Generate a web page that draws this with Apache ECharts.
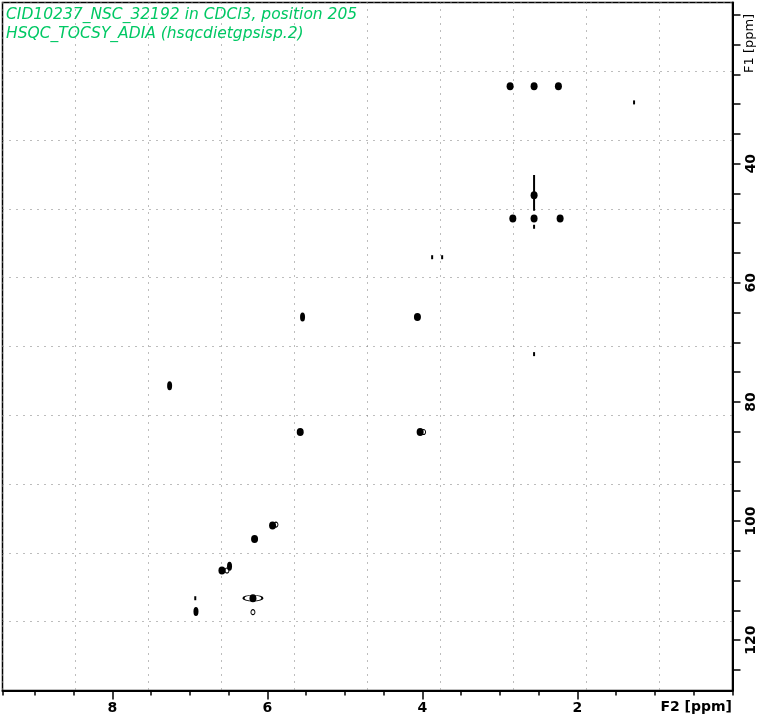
<!DOCTYPE html>
<html><head><meta charset="utf-8">
<script src="https://cdn.jsdelivr.net/npm/echarts@6/dist/echarts.min.js"></script>
<style>html,body{margin:0;padding:0;background:#fff}#c{width:763px;height:720px}</style>
</head><body><div id="c"></div>
<script>
// Axis ranges (ppm)
const f2Range = [0, 9.418];
const f1Range = [12.95, 128.45];
const f2MinorTicks = 0.5;
const f2Labels = [2, 4, 6, 8];
const f1Ticks = [15,20,25,30,35,40,45,50,55,60,65,70,75,80,85,90,95,100,105,110,115,120,125];
const f1Labels = [40, 60, 80, 100, 120];

// Cross peaks (F2 ppm, F1 ppm)
const roundF2 = [2.869, 2.560, 2.246, 2.834, 2.560, 2.224, 4.065, 5.577, 4.030, 5.934, 6.166, 6.587, 6.187, 2.560];
const roundF1 = [26.99, 26.99, 26.99, 49.22, 49.22, 49.22, 65.73, 85.06, 85.06, 100.77, 103.0, 108.3, 112.96, 45.32];
const tallF2 = [5.547, 7.262, 6.489, 6.922];
const tallF1 = [65.73, 77.30, 107.6, 115.2];
const weakF2 = [1.270, 3.875, 3.746, 2.560, 6.931, 2.560];
const weakF1 = [29.72, 55.71, 55.71, 71.98, 112.96, 50.6];
const ringF2 = [6.187, 5.890, 3.985, 6.522];
const ringF1 = [115.3, 100.6, 85.06, 108.3];
const wingF2 = [6.187];
const wingF1 = [112.96];
const streakF2 = [2.560, 2.560];
const streakF1 = [41.9, 47.9];

const zip = (a, b) => a.map((v, i) => [v, b[i]]);
const chart = echarts.init(document.getElementById('c'), null, {renderer: 'canvas'});
const dotted = {color: '#7a7a7a', width: 1, type: [1, 6]};
const txtFont = 'DejaVu Sans';

chart.setOption({
  animation: false,
  backgroundColor: '#fff',
  grid: {left: 2.5, right: 30.5, top: 2.5, bottom: 29.5, show: true, borderColor: '#000', borderWidth: 1.5, backgroundColor: 'transparent'},
  xAxis: [
    {type: 'value', min: f2Range[0], max: f2Range[1], inverse: true, position: 'bottom', interval: f2MinorTicks,
     axisLine: {lineStyle: {color: '#000', width: 2}}, axisTick: {length: 5, lineStyle: {color: '#000', width: 1.5}},
     axisLabel: {show: false}, splitLine: {show: false}},
    {type: 'value', min: f2Range[0], max: f2Range[1], inverse: true, position: 'bottom', interval: 2,
     axisLine: {show: false}, axisTick: {length: 9, lineStyle: {color: '#000', width: 1.5}},
     axisLabel: {show: true, margin: 11, color: '#000', fontFamily: txtFont, fontSize: 14, fontWeight: 'bold',
       showMaxLabel: false, showMinLabel: false,
       formatter: v => f2Labels.includes(v) ? String(v) : ''},
     splitLine: {show: false}},
    {type: 'value', min: 0, max: 10, interval: 1, position: 'top', axisLine: {show: false}, axisTick: {show: false},
     axisLabel: {show: false}, splitLine: {show: true, lineStyle: dotted}}
  ],
  yAxis: [
    {type: 'value', min: f1Range[0], max: f1Range[1], inverse: true, position: 'right',
     axisLine: {lineStyle: {color: '#000', width: 2}},
     axisTick: {length: 8, customValues: f1Ticks, lineStyle: {color: '#000', width: 1.5}},
     axisLabel: {customValues: f1Labels, rotate: 90, margin: 12, color: '#000', fontFamily: txtFont, fontSize: 14, fontWeight: 'bold'},
     splitLine: {show: false}},
    {type: 'value', min: 0, max: 10, interval: 1, position: 'left', axisLine: {show: false}, axisTick: {show: false},
     axisLabel: {show: false}, splitLine: {show: true, lineStyle: dotted}}
  ],
  series: [
    {type: 'line', xAxisIndex: 0, yAxisIndex: 0, data: zip(streakF2, streakF1), symbol: 'none',
     lineStyle: {color: '#000', width: 2}, z: 3},
    {type: 'scatter', xAxisIndex: 0, yAxisIndex: 0, data: zip(roundF2, roundF1), symbol: 'circle', symbolSize: [7, 8],
     itemStyle: {color: '#000', opacity: 1}, z: 4},
    {type: 'scatter', xAxisIndex: 0, yAxisIndex: 0, data: zip(tallF2, tallF1), symbol: 'circle', symbolSize: [5, 9],
     itemStyle: {color: '#000', opacity: 1}, z: 4},
    {type: 'scatter', xAxisIndex: 0, yAxisIndex: 0, data: zip(weakF2, weakF1), symbol: 'rect', symbolSize: [2, 4],
     itemStyle: {color: '#000', opacity: 1}, z: 4},
    {type: 'scatter', xAxisIndex: 0, yAxisIndex: 0, data: zip(ringF2, ringF1), symbol: 'circle', symbolSize: [4, 5],
     itemStyle: {color: 'transparent', borderColor: '#000', borderWidth: 1, opacity: 1}, z: 4},
    {type: 'scatter', xAxisIndex: 0, yAxisIndex: 0, data: zip(wingF2, wingF1), symbol: 'circle', symbolSize: [19, 6],
     itemStyle: {color: 'transparent', borderColor: '#000', borderWidth: 1.2, opacity: 1}, z: 4}
  ],
  graphic: [
    {type: 'text', left: 6, top: 7, style: {text: 'CID10237_NSC_32192 in CDCl3, position 205', fill: '#00c864',
      font: 'italic 15.5px "DejaVu Sans"'}},
    {type: 'text', left: 6, top: 26, style: {text: 'HSQC_TOCSY_ADIA (hsqcdietgpsisp.2)', fill: '#00c864',
      font: 'italic 15.5px "DejaVu Sans"'}},
    {type: 'text', right: 31, top: 700, style: {text: 'F2 [ppm]', fill: '#000', font: 'bold 14px "DejaVu Sans"'}},
    {type: 'text', x: 743, y: 73, rotation: Math.PI / 2, style: {text: 'F1 [ppm]', fill: '#000', font: '13px "DejaVu Sans"'}}
  ]
});
</script></body></html>
